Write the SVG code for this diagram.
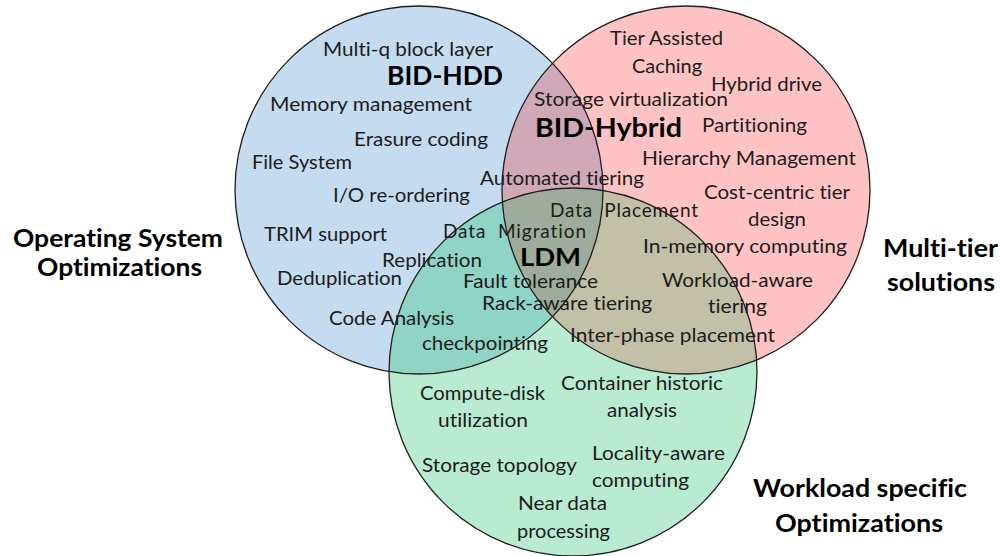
<svg xmlns="http://www.w3.org/2000/svg" width="1001" height="556" viewBox="0 0 1001 556">
  <defs>
    <clipPath id="clipBlue"><circle cx="419" cy="190" r="184"/></clipPath>
    <clipPath id="clipPink"><circle cx="686" cy="190" r="184"/></clipPath>
    <style>
      text { font-family: Lato, "Open Sans", "Liberation Sans", sans-serif; font-variant-ligatures: none; }
      .item { font-size: 19px; fill: #1c1c1c; }
      .head { font-size: 26px; font-weight: bold; fill: #000; }
      .title { font-size: 25.5px; font-weight: bold; fill: #000; }
      .ring { fill: none; stroke: #1e1e1e; stroke-width: 1.3; }
    </style>
  </defs>

  <rect width="1001" height="556" fill="#ffffff"/>

  <!-- set fills -->
  <g id="fills">
    <circle cx="419" cy="190" r="184" fill="#c5dbf0"/>
    <circle cx="686" cy="190" r="184" fill="#ffc3c3"/>
    <circle cx="573" cy="372" r="184" fill="#b9ebd3"/>
  </g>

  <!-- pairwise and triple overlaps -->
  <g id="overlaps">
    <g clip-path="url(#clipBlue)">
      <circle cx="686" cy="190" r="184" fill="#d0a8b7"/>
      <circle cx="573" cy="372" r="184" fill="#8fd4c4"/>
    </g>
    <g clip-path="url(#clipPink)">
      <circle cx="573" cy="372" r="184" fill="#c2c0a6"/>
      <g clip-path="url(#clipBlue)">
        <circle cx="573" cy="372" r="184" fill="#a0ac9b"/>
      </g>
    </g>
  </g>

  <!-- set outlines -->
  <g id="outlines">
    <circle class="ring" cx="419" cy="190" r="184"/>
    <circle class="ring" cx="686" cy="190" r="184"/>
    <circle class="ring" cx="573" cy="372" r="184"/>
  </g>

  <!-- set titles outside the circles -->
  <g id="set-os">
    <text class="title" x="13" y="247" textLength="210" lengthAdjust="spacingAndGlyphs">Operating System</text>
    <text class="title" x="37" y="276" textLength="165" lengthAdjust="spacingAndGlyphs">Optimizations</text>
  </g>
  <g id="set-multitier">
    <text class="title" x="883" y="257" textLength="115" lengthAdjust="spacingAndGlyphs">Multi-tier</text>
    <text class="title" x="887" y="291" textLength="108" lengthAdjust="spacingAndGlyphs">solutions</text>
  </g>
  <g id="set-workload">
    <text class="title" x="753" y="497" textLength="214" lengthAdjust="spacingAndGlyphs">Workload specific</text>
    <text class="title" x="775" y="532" textLength="168" lengthAdjust="spacingAndGlyphs">Optimizations</text>
  </g>

  <!-- region headings -->
  <g id="head-bid-hdd"><text class="head" x="387" y="85" textLength="116" lengthAdjust="spacingAndGlyphs">BID-HDD</text></g>
  <g id="head-bid-hybrid"><text class="head" x="535" y="137" textLength="147" lengthAdjust="spacingAndGlyphs">BID-Hybrid</text></g>
  <g id="head-ldm"><text class="head" x="520" y="266" textLength="61" lengthAdjust="spacingAndGlyphs" style="font-size:25px">LDM</text></g>

  <!-- operating system items -->
  <g id="items-os">
    <text class="item" x="323" y="56" textLength="170" lengthAdjust="spacingAndGlyphs">Multi-q block layer</text>
    <text class="item" x="270" y="111" textLength="202" lengthAdjust="spacingAndGlyphs">Memory management</text>
    <text class="item" x="354" y="146" textLength="134" lengthAdjust="spacingAndGlyphs">Erasure coding</text>
    <text class="item" x="252" y="169" textLength="100" lengthAdjust="spacingAndGlyphs">File System</text>
    <text class="item" x="333" y="202" textLength="137" lengthAdjust="spacingAndGlyphs">I/O re-ordering</text>
    <text class="item" x="264" y="241" textLength="123" lengthAdjust="spacingAndGlyphs">TRIM support</text>
    <text class="item" x="382" y="267" textLength="100" lengthAdjust="spacingAndGlyphs">Replication</text>
    <text class="item" x="277" y="285" textLength="125" lengthAdjust="spacingAndGlyphs">Deduplication</text>
    <text class="item" x="329" y="325" textLength="125" lengthAdjust="spacingAndGlyphs">Code Analysis</text>
  </g>

  <!-- shared items -->
  <g id="items-shared">
    <text class="item" x="480" y="185" textLength="164" lengthAdjust="spacingAndGlyphs">Automated tiering</text>
    <text class="item" x="534" y="106" textLength="194" lengthAdjust="spacingAndGlyphs">Storage virtualization</text>
    <text class="item" x="550" y="217" textLength="148" lengthAdjust="spacing" xml:space="preserve">Data  Placement</text>
    <text class="item" x="443" y="238" textLength="143" lengthAdjust="spacing" xml:space="preserve">Data  Migration</text>
    <text class="item" x="463" y="288" textLength="135" lengthAdjust="spacingAndGlyphs">Fault tolerance</text>
    <text class="item" x="482" y="310" textLength="170" lengthAdjust="spacingAndGlyphs">Rack-aware tiering</text>
    <text class="item" x="422" y="350" textLength="126" lengthAdjust="spacingAndGlyphs">checkpointing</text>
    <text class="item" x="570" y="342" textLength="205" lengthAdjust="spacingAndGlyphs">Inter-phase placement</text>
  </g>

  <!-- multi-tier items -->
  <g id="items-multitier">
    <text class="item" x="610" y="45" textLength="113" lengthAdjust="spacingAndGlyphs">Tier Assisted</text>
    <text class="item" x="632" y="73" textLength="70" lengthAdjust="spacingAndGlyphs">Caching</text>
    <text class="item" x="711" y="91" textLength="111" lengthAdjust="spacingAndGlyphs">Hybrid drive</text>
    <text class="item" x="702" y="132" textLength="105" lengthAdjust="spacingAndGlyphs">Partitioning</text>
    <text class="item" x="642" y="165" textLength="214" lengthAdjust="spacingAndGlyphs">Hierarchy Management</text>
    <text class="item" x="704" y="199" textLength="146" lengthAdjust="spacingAndGlyphs">Cost-centric tier</text>
    <text class="item" x="748" y="226" textLength="58" lengthAdjust="spacingAndGlyphs">design</text>
    <text class="item" x="643" y="253" textLength="204" lengthAdjust="spacingAndGlyphs">In-memory computing</text>
    <text class="item" x="662" y="287" textLength="151" lengthAdjust="spacingAndGlyphs">Workload-aware</text>
    <text class="item" x="708" y="313" textLength="59" lengthAdjust="spacingAndGlyphs">tiering</text>
  </g>

  <!-- workload items -->
  <g id="items-workload">
    <text class="item" x="561" y="390" textLength="162" lengthAdjust="spacingAndGlyphs">Container historic</text>
    <text class="item" x="607" y="417" textLength="70" lengthAdjust="spacingAndGlyphs">analysis</text>
    <text class="item" x="420" y="400" textLength="125" lengthAdjust="spacingAndGlyphs">Compute-disk</text>
    <text class="item" x="438" y="427" textLength="90" lengthAdjust="spacingAndGlyphs">utilization</text>
    <text class="item" x="422" y="472" textLength="155" lengthAdjust="spacingAndGlyphs">Storage topology</text>
    <text class="item" x="592" y="460" textLength="133" lengthAdjust="spacingAndGlyphs">Locality-aware</text>
    <text class="item" x="592" y="487" textLength="97" lengthAdjust="spacingAndGlyphs">computing</text>
    <text class="item" x="518" y="510" textLength="89" lengthAdjust="spacingAndGlyphs">Near data</text>
    <text class="item" x="517" y="538" textLength="93" lengthAdjust="spacingAndGlyphs">processing</text>
  </g>
</svg>
